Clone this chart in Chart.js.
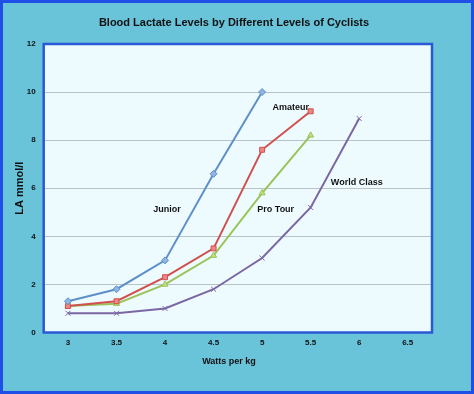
<!DOCTYPE html>
<html>
<head>
<meta charset="utf-8">
<script src="https://cdn.jsdelivr.net/npm/chart.js@4"></script>
<style>
  html, body { margin: 0; padding: 0; background: #69c3d9; }
  #wrap { width: 474px; height: 394px; box-sizing: border-box; border: 3px solid #1f4fe6; background: #69c3d9; }
  #c { display: block; }
</style>
</head>
<body>
<div id="wrap"><canvas id="c" width="468" height="388"></canvas></div>
<script>
const categories = ['3', '3.5', '4', '4.5', '5', '5.5', '6', '6.5'];
const junior     = [1.3, 1.8, 3.0, 6.6, 10.0, null, null, null];
const amateur    = [1.1, 1.3, 2.3, 3.5, 7.6, 9.2, null, null];
const proTour    = [1.1, 1.2, 2.0, 3.2, 5.8, 8.2, null, null];
const worldClass = [0.8, 0.8, 1.0, 1.8, 3.1, 5.2, 8.9, null];
const yTicks     = [0, 2, 4, 6, 8, 10, 12];
const chartTitle = 'Blood Lactate Levels by Different Levels of Cyclists';
const xTitle = 'Watts per kg';
const yTitle = 'LA mmol/l';
const seriesLabels = ['Junior', 'Amateur', 'Pro Tour', 'World Class'];

const FONT = '"Liberation Sans", Arial, Helvetica, sans-serif';

// in-chart series labels, placed in data coordinates (category index, value)
const labelSpots = [
  { text: seriesLabels[0], x: 2.04, y: 5.13 },
  { text: seriesLabels[1], x: 4.59, y: 9.36 },
  { text: seriesLabels[2], x: 4.28, y: 5.13 },
  { text: seriesLabels[3], x: 5.95, y: 6.25 }
];

const decor = {
  id: 'decor',
  beforeDraw(chart) {
    const { ctx, chartArea: a } = chart;
    ctx.save();
    ctx.fillStyle = '#eefbfe';
    ctx.fillRect(a.left, a.top, a.right - a.left, a.bottom - a.top);
    ctx.restore();
  },
  afterDatasetsDraw(chart) {
    const { ctx, chartArea: a, scales } = chart;
    ctx.save();
    ctx.strokeStyle = '#2a58d6';
    ctx.lineWidth = 2.5;
    ctx.strokeRect(a.left, a.top, a.right - a.left, a.bottom - a.top);
    ctx.fillStyle = '#111';
    ctx.textAlign = 'center';
    ctx.textBaseline = 'middle';
    ctx.font = 'bold 11px ' + FONT;
    ctx.fillText(chartTitle, 231, 20);
    ctx.font = 'bold 9px ' + FONT;
    ctx.fillText(xTitle, 226, 359);
    for (const s of labelSpots) {
      ctx.fillText(s.text, scales.x.getPixelForValue(s.x), scales.y.getPixelForValue(s.y));
    }
    ctx.restore();
  }
};

function ds(label, data, color, fill, style) {
  return {
    label, data,
    borderColor: color, backgroundColor: fill,
    pointBorderColor: color, pointBackgroundColor: fill,
    borderWidth: 2, pointStyle: style, pointRadius: 3.5, pointBorderWidth: 1,
    tension: 0, spanGaps: false
  };
}

new Chart(document.getElementById('c'), {
  type: 'line',
  data: {
    labels: categories,
    datasets: [
      ds(seriesLabels[0], junior, '#5d8fc9', '#8fb5e0', 'rectRot'),
      ds(seriesLabels[1], amateur, '#d0504e', '#f08585', 'rect'),
      ds(seriesLabels[2], proTour, '#9bc35b', '#bde07f', 'triangle'),
      ds(seriesLabels[3], worldClass, '#7b68a3', '#7b68a3', 'crossRot')
    ]
  },
  options: {
    responsive: false,
    animation: false,
    layout: { padding: { left: 0, right: 39, top: 41, bottom: 0 } },
    plugins: { legend: { display: false }, title: { display: false }, tooltip: { enabled: false } },
    scales: {
      x: {
        offset: true,
        grid: { display: false, drawTicks: false },
        border: { display: false },
        ticks: { color: '#111', font: { family: FONT, size: 8, weight: 'bold' }, padding: 5, maxRotation: 0, autoSkip: false },
        afterFit(s) { s.height = 58.5; }
      },
      y: {
        min: 0, max: 12,
        grid: { color: '#b9c3c7', lineWidth: 1, drawTicks: false },
        border: { display: false },
        afterBuildTicks(s) { s.ticks = yTicks.map(v => ({ value: v })); },
        ticks: { color: '#111', font: { family: FONT, size: 8, weight: 'bold' }, padding: 8 },
        title: { display: true, text: yTitle, color: '#111', font: { family: FONT, size: 11, weight: 'bold' }, padding: { top: 10, bottom: 0 } },
        afterFit(s) { s.width = 40.7; }
      }
    }
  },
  plugins: [decor]
});
</script>
</body>
</html>
